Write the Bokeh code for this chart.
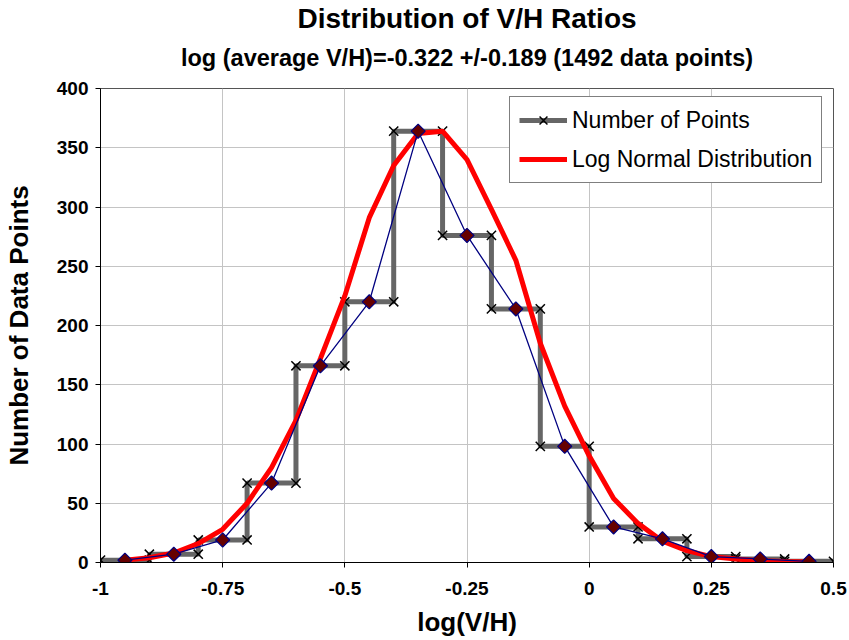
import math
from bokeh.plotting import figure
from bokeh.models import (Range1d, FixedTicker, Title, Legend, LegendItem, ColumnDataSource)
from bokeh.embed import file_html
from bokeh.resources import INLINE

# ---- data ----
bin_edges = [-1.0, -0.9, -0.8, -0.7, -0.6, -0.5, -0.4, -0.3, -0.2, -0.1, 0.0, 0.1, 0.2, 0.3, 0.4, 0.5]
bin_counts = [2, 7, 19, 67, 166, 220, 364, 276, 214, 98, 30, 20, 5, 3, 1]

lognormal_x = [-0.95, -0.9, -0.85, -0.8, -0.75, -0.7, -0.65, -0.6, -0.55, -0.5, -0.45, -0.4, -0.35, -0.3,
               -0.25, -0.2, -0.15, -0.1, -0.05, 0.0, 0.05, 0.1, 0.15, 0.2, 0.25, 0.3, 0.35, 0.4, 0.45]
lognormal_y = [2, 4, 8, 16, 28, 50, 80, 120, 172, 225, 291, 335, 362, 364,
               340, 298, 255, 185, 132, 90, 54, 33, 18, 10, 5, 3, 1.5, 0.8, 0.4]

x_ticks = [-1.0, -0.75, -0.5, -0.25, 0.0, 0.25, 0.5]
x_tick_labels = ["-1", "-0.75", "-0.5", "-0.25", "0", "0.25", "0.5"]
y_ticks = [0, 50, 100, 150, 200, 250, 300, 350, 400]

title_text = "Distribution of V/H Ratios"
subtitle_text = "log (average V/H)=-0.322 +/-0.189 (1492 data points)"
x_label = "log(V/H)"
y_label = "Number of Data Points"
series_names = ["Number of Points", "Log Normal Distribution"]

# derived
step_x, step_y = [], []
for i, c in enumerate(bin_counts):
    step_x += [bin_edges[i], bin_edges[i + 1]]
    step_y += [c, c]
centers = [(bin_edges[i] + bin_edges[i + 1]) / 2 for i in range(len(bin_counts))]

FONT = "Liberation Sans"

p = figure(width=849, height=640, output_backend="svg", toolbar_location=None,
           x_range=Range1d(-1, 0.5), y_range=Range1d(0, 400),
           min_border_left=98, min_border_right=16, min_border_top=88, min_border_bottom=78,
           background_fill_color="white", border_fill_color="white")
p.title = None

sub = Title(text=subtitle_text, align="center", offset=-4, text_font=FONT,
            text_font_size="23.5px", text_font_style="bold", text_color="black", standoff=35)
p.add_layout(sub, "above")
main = Title(text=title_text, align="center", offset=-3, text_font=FONT, text_font_size="28px",
             text_font_style="bold", text_color="black", standoff=-16)
p.add_layout(main, "above")

p.outline_line_color = "#555555"
p.outline_line_width = 1

# grid
p.xgrid.ticker = FixedTicker(ticks=x_ticks)
p.ygrid.ticker = FixedTicker(ticks=y_ticks)
p.xgrid.grid_line_color = "#c4c4c4"
p.ygrid.grid_line_color = "#c4c4c4"
p.xgrid.grid_line_width = 1
p.ygrid.grid_line_width = 1

# axes
p.xaxis.ticker = FixedTicker(ticks=x_ticks)
p.xaxis.major_label_overrides = {t: l for t, l in zip(x_ticks, x_tick_labels)}
p.yaxis.ticker = FixedTicker(ticks=y_ticks)
for ax in (p.xaxis[0], p.yaxis[0]):
    ax.axis_line_color = "black"
    ax.axis_line_width = 1
    ax.major_tick_line_color = "black"
    ax.major_tick_in = 0
    ax.major_tick_out = 5
    ax.minor_tick_line_color = None
    ax.major_label_text_font = FONT
    ax.major_label_text_font_size = "19px"
    ax.major_label_text_font_style = "bold"
    ax.major_label_text_color = "black"
    ax.axis_label_text_font = FONT
    ax.axis_label_text_font_size = "26px"
    ax.axis_label_text_font_style = "bold"
    ax.axis_label_text_color = "black"
p.xaxis.axis_label = x_label
p.yaxis.axis_label = y_label
p.xaxis.major_label_standoff = 14
p.yaxis.major_label_standoff = 7
p.xaxis.axis_label_standoff = 9
p.yaxis.axis_label_standoff = 20

# series
step_src = ColumnDataSource(dict(x=step_x, y=step_y))
r_step = p.line("x", "y", source=step_src, line_color="#666666", line_width=5)
r_step_m = p.scatter("x", "y", source=step_src, marker="x", size=13, line_color="black",
                     line_width=1.5)
r_red = p.line(lognormal_x, lognormal_y, line_color="#ff0000", line_width=5)
p.line(centers, bin_counts, line_color="#000080", line_width=1.3)
p.scatter(centers, bin_counts, marker="square", angle=math.pi / 4, size=10,
          fill_color="#660000", line_color="#000080", line_width=1.2)

legend = Legend(items=[LegendItem(label=series_names[0], renderers=[r_step, r_step_m]),
                       LegendItem(label=series_names[1], renderers=[r_red])],
                location=(409, 379), orientation="vertical")
legend.label_text_font = FONT
legend.label_text_font_size = "23px"
legend.label_text_color = "black"
legend.border_line_color = "black"
legend.border_line_width = 1
legend.background_fill_alpha = 1
legend.glyph_width = 48
legend.glyph_height = 28
legend.label_height = 28
legend.label_standoff = 5
legend.spacing = 11
legend.padding = 9
legend.margin = 0
p.add_layout(legend)

open("out.html", "w").write(file_html(p, INLINE))
